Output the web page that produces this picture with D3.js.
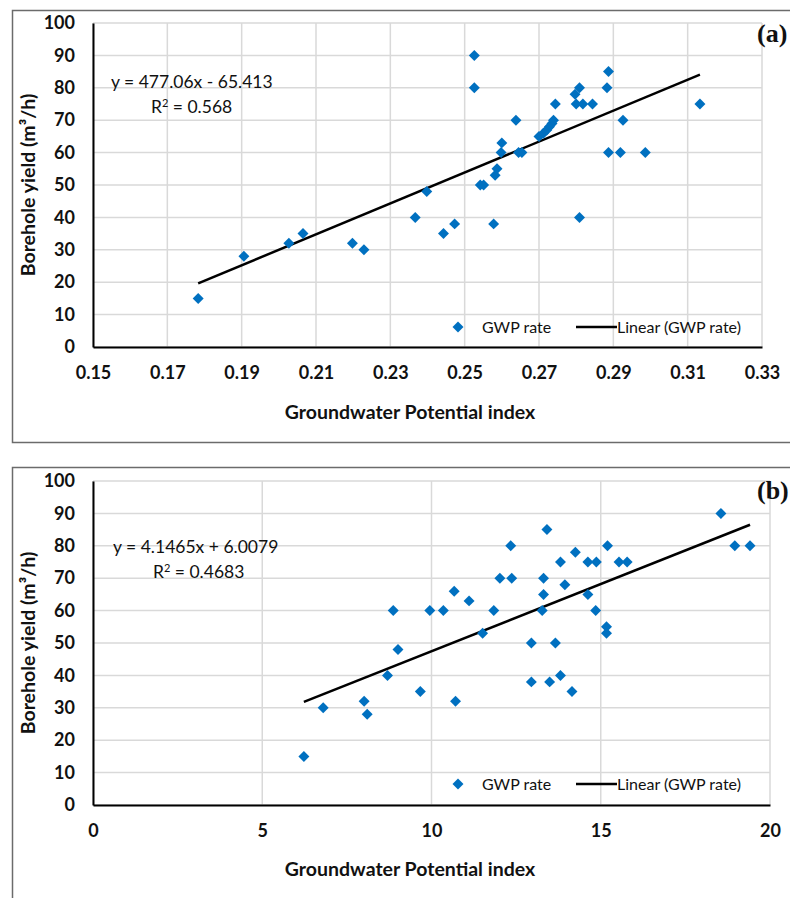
<!DOCTYPE html>
<html lang="en">
<head>
  <meta charset="utf-8">
  <title>GWP vs borehole yield</title>
  <script src="https://d3js.org/d3.v7.min.js"></script>
  <style>
  body { margin: 0; background: #fff; }
  .tick-lab { font-family: Lato, 'Open Sans', sans-serif; font-weight: bold; font-size: 18px; fill: #111; }
  .ax-title { font-family: Lato, 'Open Sans', sans-serif; font-weight: bold; font-size: 19.5px; fill: #111; }
  .eq { font-family: Lato, 'Open Sans', sans-serif; font-size: 17.5px; fill: #111; }
  .leg { font-family: Lato, 'Open Sans', sans-serif; font-size: 16px; fill: #111; }
  .panel-lab { font-family: 'Liberation Serif', 'DejaVu Serif', serif; font-weight: bold; font-size: 26px; fill: #111; }
  </style>
</head>
<body>
<script>
// panel (a): GWP index (0-1 scale)
var gwpA = [0.1783,0.1906,0.2027,0.2065,0.2198,0.2229,0.2367,0.2398,0.2443,0.2473,
            0.2542,0.2551,0.2526,0.2526,0.2578,0.2582,0.2587,0.2598,0.2600,0.2638,
            0.2645,0.2654,0.2700,0.2712,0.2721,0.2728,0.2735,0.2739,0.2744,0.2797,
            0.2800,0.2809,0.2809,0.2818,0.2844,0.2883,0.2887,0.2887,0.2919,0.2926,
            0.2986,0.3133];
var yieldA = [15,28,32,35,32,30,40,48,35,38,
              50,50,80,90,38,53,55,60,63,70,
              60,60,65,66,67,68,69,70,75,78,
              75,80,40,75,75,80,85,60,60,70,
              60,75];
// panel (b): GWP index (raw scale)
var gwpB = [6.23,6.80,8.01,8.10,8.70,8.87,9.01,9.67,9.95,10.35,
            10.67,10.71,11.11,11.51,11.84,12.02,12.34,12.37,12.95,12.95,
            13.27,13.31,13.31,13.41,13.49,13.66,13.81,13.81,13.94,14.15,
            14.25,14.62,14.62,14.85,14.87,15.17,15.17,15.20,15.54,15.78,
            18.55,18.96,19.41];
var yieldB = [15,30,32,28,40,60,48,35,60,60,
              66,32,63,53,60,70,80,70,50,38,
              60,70,65,85,38,50,75,40,68,35,
              78,75,65,60,75,55,53,80,75,75,
              90,80,80];

var xTicksA = [0.15,0.17,0.19,0.21,0.23,0.25,0.27,0.29,0.31,0.33];
var xTicksB = [0,5,10,15,20];
var yTicks = [0,10,20,30,40,50,60,70,80,90,100];

var fitA = {slope: 477.06, icept: -65.413, eq: "y = 477.06x - 65.413", r2: "0.568"};
var fitB = {slope: 4.1465, icept: 6.0079, eq: "y = 4.1465x + 6.0079", r2: "0.4683"};

var width = 790, height = 898;
var svg = d3.select("body").append("svg")
  .attr("width", width).attr("height", height);

var blue = "#0070C0";

function panel(opt) {
  var g = svg.append("g");
  // outer frame (runs off the right/bottom of the picture)
  g.append("rect")
    .attr("x", 12.5).attr("y", opt.top + 0.5)
    .attr("width", 800).attr("height", opt.frameH)
    .attr("fill", "none").attr("stroke", "#6b6b6b").attr("stroke-width", 1.5);

  var x = d3.scaleLinear().domain(opt.xDomain).range([93, opt.xRight]);
  var y = d3.scaleLinear().domain([0, 100]).range([opt.plotBottom, opt.plotTop]);

  // grid
  g.append("g").selectAll("line").data(yTicks).enter().append("line")
    .attr("x1", 93).attr("x2", opt.xRight)
    .attr("y1", function(d) { return y(d); }).attr("y2", function(d) { return y(d); })
    .attr("stroke", "#d9d9d9").attr("stroke-width", 1.5);
  g.append("g").selectAll("line").data(opt.xTicks).enter().append("line")
    .attr("x1", function(d) { return x(d); }).attr("x2", function(d) { return x(d); })
    .attr("y1", y(0)).attr("y2", y(100))
    .attr("stroke", "#d9d9d9").attr("stroke-width", 1.5);

  // axes
  var yAxis = g.append("g").attr("transform", "translate(93,0)")
    .call(d3.axisLeft(y).tickValues(yTicks).tickSize(0).tickPadding(18));
  var xAxis = g.append("g").attr("transform", "translate(0," + opt.plotBottom + ")")
    .call(d3.axisBottom(x).tickValues(opt.xTicks).tickSize(0).tickPadding(19).tickFormat(opt.fmt));
  [yAxis, xAxis].forEach(function(a) {
    a.select(".domain").attr("stroke", "#000").attr("stroke-width", 2);
    a.selectAll("text").attr("class", "tick-lab").attr("font-family", null).attr("font-size", null);
  });

  // trend line
  var xs = opt.xs, ys = opt.ys;
  var lo = d3.min(xs), hi = d3.max(xs);
  g.append("line")
    .attr("x1", x(lo)).attr("y1", y(opt.fit.slope * lo + opt.fit.icept))
    .attr("x2", x(hi)).attr("y2", y(opt.fit.slope * hi + opt.fit.icept))
    .attr("stroke", "#000").attr("stroke-width", 2.5);

  // points
  var diamond = d3.symbol().type(d3.symbolSquare).size(60);
  g.append("g").selectAll("path").data(xs).enter().append("path")
    .attr("d", diamond)
    .attr("transform", function(d, i) { return "translate(" + x(d) + "," + y(ys[i]) + ") rotate(45)"; })
    .attr("fill", blue);

  // equation
  g.append("text").attr("class", "eq").attr("x", opt.eqX).attr("y", opt.eqY).text(opt.fit.eq);
  var r = g.append("text").attr("class", "eq").attr("x", opt.eqX + 40).attr("y", opt.eqY + 25);
  r.append("tspan").text("R");
  r.append("tspan").attr("dy", -6).attr("font-size", "11px").text("2");
  r.append("tspan").attr("dy", 6).text(" = " + opt.fit.r2);

  // legend
  var ly = opt.legY;
  g.append("path").attr("d", diamond)
    .attr("transform", "translate(458," + ly + ") rotate(45)").attr("fill", blue);
  g.append("text").attr("class", "leg").attr("x", 482).attr("y", ly + 6).text("GWP rate");
  g.append("line").attr("x1", 576).attr("x2", 617).attr("y1", ly).attr("y2", ly)
    .attr("stroke", "#000").attr("stroke-width", 2.5);
  g.append("text").attr("class", "leg").attr("x", 617).attr("y", ly + 6).text("Linear (GWP rate)");

  // axis titles
  g.append("text").attr("class", "ax-title")
    .attr("transform", "translate(35," + ((opt.plotTop + opt.plotBottom) / 2) + ") rotate(-90)")
    .attr("text-anchor", "middle").text("Borehole yield (m³/h)");
  g.append("text").attr("class", "ax-title")
    .attr("x", 410).attr("y", opt.xTitleY).attr("text-anchor", "middle")
    .text("Groundwater Potential index");

  // panel label
  g.append("text").attr("class", "panel-lab")
    .attr("x", 757).attr("y", opt.labY).text(opt.label);
}

panel({
  top: 10, frameH: 432, xDomain: [0.15, 0.33], xRight: 762,
  plotTop: 23, plotBottom: 347, xTicks: xTicksA, fmt: d3.format(".2f"),
  xs: gwpA, ys: yieldA, fit: fitA, eqX: 111, eqY: 88, legY: 327,
  xTitleY: 419, labY: 42, label: "(a)"
});

panel({
  top: 467, frameH: 500, xDomain: [0, 20], xRight: 770,
  plotTop: 481, plotBottom: 805, xTicks: xTicksB, fmt: d3.format("d"),
  xs: gwpB, ys: yieldB, fit: fitB, eqX: 113, eqY: 553, legY: 784,
  xTitleY: 876, labY: 499, label: "(b)"
});
</script>
</body>
</html>
